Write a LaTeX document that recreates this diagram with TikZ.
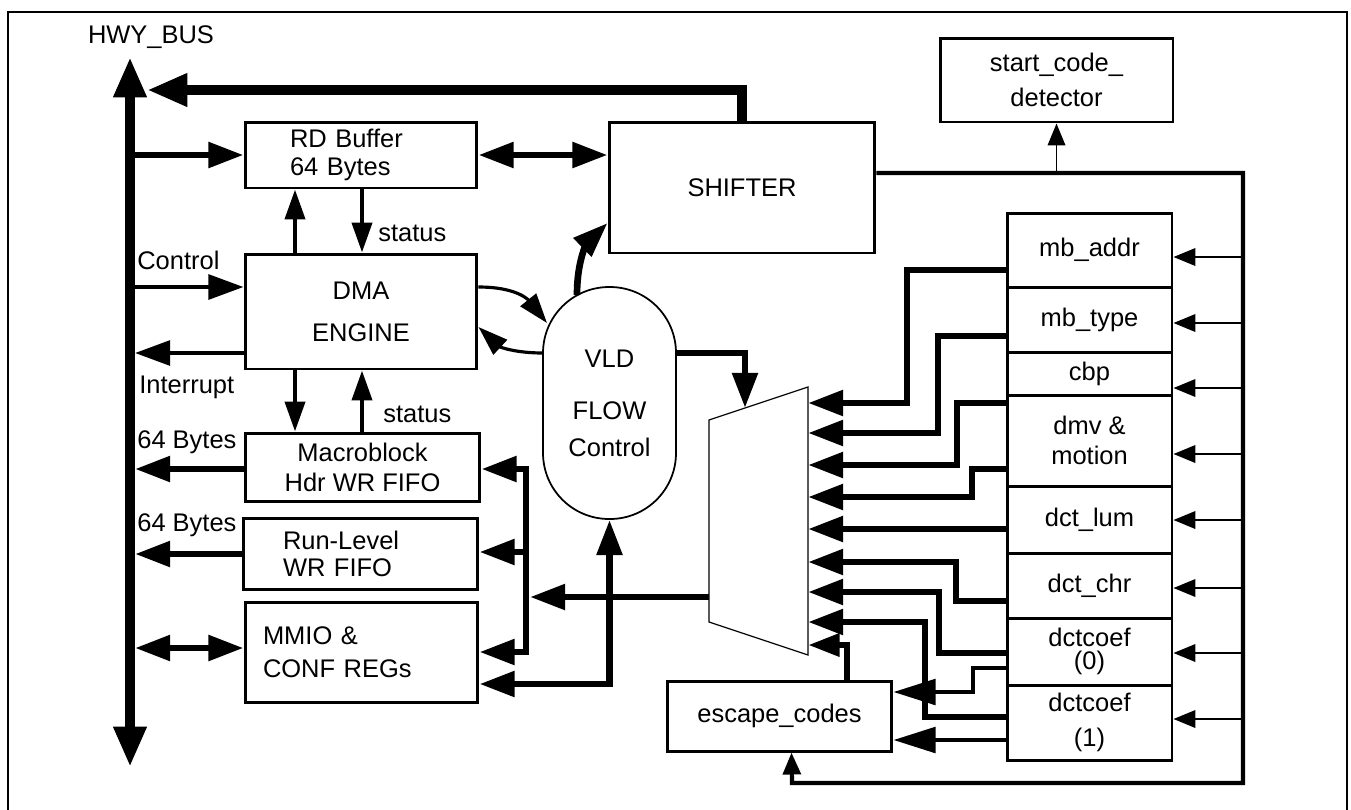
\documentclass[tikz,border=0pt]{standalone}
\usepackage{fontspec}
\setmainfont{Liberation Sans}
\usetikzlibrary{arrows.meta}

\begin{document}
\begin{tikzpicture}[x=0.02cm, y=-0.02cm,
  every node/.style={font=\fontsize{14.5}{15.5}\selectfont},
  blk/.style={draw, line width=1.7pt, inner sep=2pt, align=center},
  reg/.style={blk, minimum width=3.3cm},
  lbl/.style={anchor=west, inner sep=0pt},
  bus/.style={line width=5.7pt},
  fat/.style={line width=3.8pt},
  sig/.style={line width=2.4pt},
  thn/.style={line width=1.1pt},
  bighead/.tip={Triangle[length=23pt, width=17.6pt]},
  fathead/.tip={Triangle[length=20pt, width=14pt]},
  sighead/.tip={Triangle[length=17pt, width=11.3pt]},
  widehead/.tip={Triangle[length=24pt, width=14.5pt]},
  eschead/.tip={Triangle[length=18pt, width=12.5pt]},
  smallhead/.tip={Triangle[length=12.5pt, width=10pt]}]

\useasboundingbox (0,0) rectangle (1351,809);
\draw[line width=0.6pt] (8,12) rectangle (1347,812);

% Bus and its label
\coordinate (bustop) at (130,57);
\coordinate (busbot) at (130,767);
\coordinate (busr) at (135,57);
\coordinate (busret) at (147,90);
\node (hwy) at (151,37) {HWY\_BUS};
\draw[bus, bighead-bighead] (bustop) -- (busbot);

% Left column of blocks
\node[blk, minimum width=4.64cm, minimum height=1.32cm, text width=2.84cm, inner xsep=0.9cm, align=left] (rdbuf) at (361,155) {RD Buffer\\64 Bytes};
\node[blk, minimum width=4.64cm, minimum height=2.3cm] (dma) at (361,311.5) {DMA\\[8.5pt]ENGINE};
\node[blk, minimum width=4.7cm, minimum height=1.36cm] (mbfifo) at (362.5,467) {Macroblock\\[1.5pt]Hdr WR FIFO};
\node[blk, minimum width=4.7cm, minimum height=1.42cm, text width=3.1cm, inner xsep=0.8cm, align=left] (rlfifo) at (360.5,553.5) {Run-Level\\WR FIFO};
\node[blk, minimum width=4.66cm, minimum height=2cm, text width=3.94cm, inner xsep=0.36cm, align=left] (mmio) at (361.5,652) {MMIO \&\\[3pt]CONF REGs};

% Middle blocks
\node[blk, minimum width=5.32cm, minimum height=2.62cm] (shifter) at (742,187.5) {SHIFTER};
\node[blk, minimum width=4.66cm, minimum height=1.68cm] (startcd) at (1056.5,80) {start\_code\_\\[4.3pt]detector};
\node[draw, line width=1pt, rounded corners=1.32cm, minimum width=2.66cm, minimum height=4.64cm, align=center] (vld) at (609.5,403) {VLD\\[14pt]FLOW\\[5.5pt]Control};
\node[blk, minimum width=4.5cm, minimum height=1.4cm] (escape) at (779.5,716) {escape\_codes};

% Register column
\node[reg, minimum height=1.48cm] (mbaddr) at (1089.5,250) {mb\_addr};
\node[reg, minimum height=1.3cm] (mbtype) at (1089.5,319.5) {mb\_type};
\node[reg, minimum height=0.86cm] (cbp) at (1089.5,373.5) {cbp};
\node[reg, minimum height=1.82cm] (dmv) at (1089.5,440.5) {dmv \&\\[1.5pt]motion};
\node[reg, minimum height=1.34cm] (dctlum) at (1089.5,519.5) {dct\_lum};
\node[reg, minimum height=1.3cm] (dctchr) at (1089.5,585.5) {dct\_chr};
\node[reg, minimum height=1.34cm] (coefa) at (1089.5,651.5) {dctcoef\\[-2.5pt](0)};
\node[reg, minimum height=1.5cm] (coefb) at (1089.5,722.5) {dctcoef\\[4.3pt](1)};

% Mux
\draw[line width=0.7pt] (709,420) -- (808,387) -- (808,655) -- (709,622) -- cycle;
\foreach \k/\yy in {1/403,2/433,3/465,4/497,5/529,6/562,7/592,8/622,9/645}
  \coordinate (in\k) at (808,\yy);
\coordinate (muxout) at (709,597);
\coordinate (muxtop) at (745,408);
\coordinate (split) at (530,597);

% Points on the VLD outline
\coordinate (vldtop) at (577,295);
\coordinate (vldtl) at (547,323);
\coordinate (vldl) at (543,353);
\coordinate (feed) at (1243,173);

% Bus traffic
\draw[bus, -bighead] (shifter.north) |- (busret);
\draw[fat, -fathead] (busr |- rdbuf.west) -- (rdbuf.west);
\draw[fat, fathead-fathead] (rdbuf.east) -- (rdbuf.east -| shifter.west);
\draw[sig, -fathead] (busr |- 0,287) -- (dma.west |- 0,287);
\node[lbl] (ctl) at (137,260) {Control};
\draw[sig, -fathead] (dma.west |- 0,353) -- (busr |- 0,353);
\node[lbl] (intr) at (139,387) {Interrupt};
\draw[fat, -fathead] (mbfifo.west |- 0,469) -- (busr |- 0,469);
\node[lbl] (bya) at (137,442) {64 Bytes};
\draw[fat, -fathead] (rlfifo.west |- 0,554) -- (busr |- 0,554);
\node[lbl] (byb) at (137,525) {64 Bytes};
\draw[fat, fathead-fathead] (busr |- 0,648) -- (mmio.west |- 0,648);

% DMA handshakes
\draw[sig, -sighead] (dma.north -| 295,0) -- (rdbuf.south -| 295,0);
\draw[sig, -sighead] (rdbuf.south -| 362,0) -- (dma.north -| 362,0);
\node[lbl] (sta) at (378,233) {status};
\draw[sig, -sighead] (dma.south -| 295,0) -- (mbfifo.north -| 295,0);
\draw[sig, -sighead] (mbfifo.north -| 362,0) -- (dma.south -| 362,0);
\node[lbl] (stb) at (383,414) {status};

% VLD links
\draw[line width=1.8pt, -sighead] (dma.east |- 0,287) .. controls (520,287) and (530,302) .. (vldtl);
\draw[line width=1.8pt, -sighead] (vldl) .. controls (515,353) and (500,347) .. (dma.east |- 0,327);
\draw[fat, -fathead] (vldtop) .. controls (577,255) and (590,240) .. (shifter.west |- 0,223);
\draw[fat, -fathead] (vld.east |- 0,353) -| (muxtop);
\draw[fat, fathead-fathead] (mmio.east |- 0,684) -| (vld.south);

% Mux output to the write side
\draw[fat, -fathead] (muxout) -- (split);
\draw[fat, fathead-fathead] (mbfifo.east |- 0,469) -| (526,560) |- (mmio.east |- 0,652);
\draw[fat, -fathead] (526,552) -- (rlfifo.east |- 0,552);

% Registers into the mux
\foreach \r/\ya/\xb/\k in {mbaddr/270/907/1, mbtype/336/938/2, dmv/403/957/3, dmv/469/972/4,
                           dctchr/601/956/6, coefa/653/939/7, coefb/717/925/8}
  \draw[fat, -fathead] (\r.west |- 0,\ya) -- (\xb,\ya) |- (in\k);
\draw[fat, -fathead] (dctlum.west |- in5) -- (in5);
\draw[fat, -eschead] (escape.north -| 847,0) |- (in9);

% Shifter feed to registers
\draw[sig, -smallhead] (shifter.east |- feed) -- (feed) |- (792,783) -- ([xshift=0.24cm]escape.south);
\draw[thn, -smallhead] (startcd.south |- feed) -- (startcd.south);
\foreach \r/\yy in {mbaddr/257, mbtype/323, cbp/388, dmv/454, dctlum/520, dctchr/588, coefa/653, coefb/719}
  \draw[thn, -smallhead] (feed |- 0,\yy) -- (\r.east |- 0,\yy);

% Coefficients to escape codes
\draw[sig, -widehead] (coefa.west |- 0,668) -| (973,692) -- (escape.east |- 0,692);
\draw[sig, -widehead] (coefb.west |- 0,740) -- (escape.east |- 0,740);
\end{tikzpicture}
\end{document}
